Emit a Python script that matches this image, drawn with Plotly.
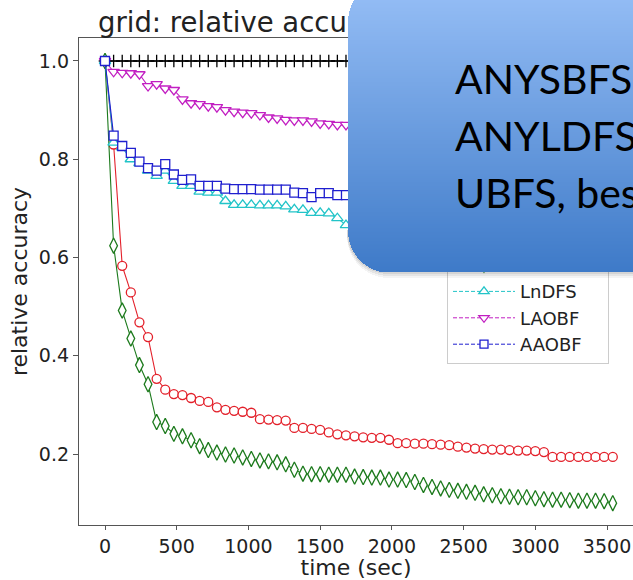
import math
import plotly.graph_objects as go

# ---- data -------------------------------------------------------------
TIME_SEC = [0, 60, 120, 180, 240, 300, 360, 420, 480, 540,
            600, 660, 720, 780, 840, 900, 960, 1020, 1080, 1140,
            1200, 1260, 1320, 1380, 1440, 1500, 1560, 1620, 1680, 1740,
            1800, 1860, 1920, 1980, 2040, 2100, 2160, 2220, 2280, 2340,
            2400, 2460, 2520, 2580, 2640, 2700, 2760, 2820, 2880, 2940,
            3000, 3060, 3120, 3180, 3240, 3300, 3360, 3420, 3480, 3540]

ACC_ANYSBFS = [1.0, 1.0, 1.0, 1.0, 1.0, 1.0, 1.0, 1.0, 1.0, 1.0,
               1.0, 1.0, 1.0, 1.0, 1.0, 1.0, 1.0, 1.0, 1.0, 1.0,
               1.0, 1.0, 1.0, 1.0, 1.0, 1.0, 1.0, 1.0, 1.0, 1.0,
               1.0, 1.0, 1.0, 1.0, 1.0, 1.0, 1.0, 1.0, 1.0, 1.0,
               1.0, 1.0, 1.0, 1.0, 1.0, 1.0, 1.0, 1.0, 1.0, 1.0,
               1.0, 1.0, 1.0, 1.0, 1.0, 1.0, 1.0, 1.0, 1.0, 1.0]

ACC_ANYLDFS = [1.0, 0.83, 0.583, 0.529, 0.468, 0.438, 0.353, 0.331, 0.322, 0.320,
               0.314, 0.308, 0.306, 0.295, 0.290, 0.288, 0.286, 0.284, 0.271, 0.270,
               0.269, 0.268, 0.253, 0.253, 0.251, 0.249, 0.244, 0.240, 0.238, 0.236,
               0.234, 0.233, 0.233, 0.229, 0.222, 0.222, 0.221, 0.221, 0.220, 0.219,
               0.218, 0.215, 0.213, 0.211, 0.210, 0.209, 0.209, 0.208, 0.207, 0.207,
               0.206, 0.204, 0.194, 0.194, 0.194, 0.194, 0.194, 0.194, 0.194, 0.194]

ACC_UBFS = [1.0, 0.624, 0.492, 0.435, 0.381, 0.342, 0.265, 0.257, 0.241, 0.236,
            0.228, 0.216, 0.208, 0.203, 0.199, 0.197, 0.193, 0.190, 0.187, 0.185,
            0.183, 0.179, 0.168, 0.160, 0.159, 0.159, 0.158, 0.158, 0.158, 0.154,
            0.153, 0.152, 0.152, 0.148, 0.148, 0.147, 0.143, 0.137, 0.133, 0.130,
            0.127, 0.125, 0.123, 0.121, 0.118, 0.116, 0.114, 0.113, 0.112, 0.112,
            0.110, 0.108, 0.107, 0.107, 0.106, 0.105, 0.105, 0.105, 0.104, 0.100]

ACC_LNDFS = [1.0, 0.834, 0.824, 0.800, 0.792, 0.777, 0.766, 0.777, 0.756, 0.746,
             0.746, 0.734, 0.732, 0.732, 0.715, 0.707, 0.707, 0.707, 0.706, 0.706,
             0.706, 0.704, 0.698, 0.697, 0.691, 0.691, 0.690, 0.680, 0.666, 0.664,
             0.662, 0.661, 0.659, 0.657, 0.656, 0.654, 0.653, 0.651, 0.650, 0.649,
             0.647, 0.646, 0.645, 0.644, 0.642, 0.641, 0.640, 0.639, 0.638, 0.637,
             0.636, 0.635, 0.634, 0.633, 0.632, 0.631, 0.630, 0.629, 0.628, 0.627]

ACC_LAOBF = [1.0, 0.978, 0.976, 0.975, 0.973, 0.949, 0.953, 0.944, 0.941, 0.922,
             0.914, 0.912, 0.908, 0.906, 0.900, 0.897, 0.895, 0.894, 0.890, 0.885,
             0.883, 0.880, 0.879, 0.879, 0.877, 0.873, 0.872, 0.870, 0.870, 0.868,
             0.866, 0.866, 0.864, 0.862, 0.861, 0.860, 0.858, 0.857, 0.856, 0.855,
             0.853, 0.852, 0.851, 0.850, 0.849, 0.848, 0.847, 0.846, 0.845, 0.845,
             0.844, 0.843, 0.842, 0.842, 0.841, 0.840, 0.840, 0.839, 0.838, 0.838]

ACC_AAOBF = [1.0, 0.848, 0.827, 0.813, 0.795, 0.782, 0.777, 0.790, 0.769, 0.758,
             0.759, 0.746, 0.746, 0.746, 0.740, 0.739, 0.739, 0.739, 0.738, 0.738,
             0.738, 0.738, 0.732, 0.731, 0.723, 0.731, 0.731, 0.727, 0.727, 0.726,
             0.725, 0.725, 0.724, 0.722, 0.722, 0.721, 0.720, 0.719, 0.719, 0.718,
             0.717, 0.716, 0.716, 0.715, 0.714, 0.713, 0.713, 0.712, 0.711, 0.711,
             0.710, 0.709, 0.709, 0.708, 0.707, 0.707, 0.706, 0.705, 0.705, 0.704]

SERIES_NAMES = ["ANYSBFS", "ANYLDFS", "UBFS", "LnDFS", "LAOBF", "AAOBF"]
SERIES_VALUES = [ACC_ANYSBFS, ACC_ANYLDFS, ACC_UBFS, ACC_LNDFS, ACC_LAOBF, ACC_AAOBF]

X_TICKS = [0, 500, 1000, 1500, 2000, 2500, 3000, 3500]
Y_TICKS = [0.2, 0.4, 0.6, 0.8, 1.0]

TITLE_TEXT = "grid: relative accuracy"
X_LABEL = "time (sec)"
Y_LABEL = "relative accuracy"
CALLOUT_LINES = ["ANYSBFS", "ANYLDFS,", "UBFS, best"]

# ---- styles -----------------------------------------------------------
COLORS = ["#000000", "#e3202a", "#1c7a1c", "#22c4c8", "#c21fc2", "#1f1fcf"]
SYMBOLS = ["cross-thin", "circle", "diamond-tall", "triangle-up", "triangle-down", "square"]
SIZES = [9, 9, 11, 10, 10, 9]

W, H = 633, 580
ML, MT, MB = 79, 38, 55
PW, PH = W - ML, H - MT - MB


def px_x(px):
    return (px - ML) / PW


def px_y(py):
    return (H - MB - py) / PH


def marker_style(sym, size, col):
    return dict(symbol=sym, size=size, color="white" if sym != "cross-thin" else col,
                line=dict(color=col, width=1.3))


fig = go.Figure()

for name, vals, col, sym, sz in zip(SERIES_NAMES, SERIES_VALUES, COLORS, SYMBOLS, SIZES):
    fig.add_trace(go.Scatter(
        x=TIME_SEC, y=vals, mode="lines+markers", name=name, showlegend=False,
        line=dict(color=col, width=1.1), marker=marker_style(sym, sz, col)))

# legend entries use a dashed sample line
for name, col, sym, sz in zip(SERIES_NAMES, COLORS, SYMBOLS, SIZES):
    fig.add_trace(go.Scatter(
        x=[None], y=[None], mode="lines+markers", name=name,
        line=dict(color=col, width=1, dash="4px,2px"),
        marker=marker_style(sym, sz - 1, col)))

axis_font = dict(family="DejaVu Sans", size=19, color="#222222")
label_font = dict(family="DejaVu Sans", size=22, color="#222222")

fig.update_xaxes(
    range=[-181.3, 3681], tickvals=X_TICKS, showgrid=False, zeroline=False,
    showline=True, linecolor="#555555", linewidth=1.3, mirror=True,
    ticks="outside", ticklen=4, tickcolor="#555555", tickwidth=1.2,
    tickfont=axis_font, title=dict(text=X_LABEL, font=label_font, standoff=4))
fig.update_yaxes(
    range=[0.0555, 1.0468], tickvals=Y_TICKS, tickformat=".1f", showgrid=False,
    zeroline=False, showline=True, linecolor="#555555", linewidth=1.3,
    ticks="outside", ticklen=5, tickcolor="#555555", tickwidth=1.2,
    tickfont=axis_font, title=dict(text=Y_LABEL, font=label_font, standoff=5))

annotations = [dict(
    text=TITLE_TEXT, xref="paper", yref="paper", x=px_x(96), y=px_y(22),
    xanchor="left", yanchor="middle", showarrow=False,
    font=dict(family="DejaVu Sans", size=27.5, color="#222222"))]

# rounded callout box: vertical gradient built from thin horizontal bands
CALL_L, CALL_T, CALL_B, CALL_R, RAD = 348, -20, 272, 660, 42
TOP_RGB, BOT_RGB = (152, 192, 247), (62, 122, 200)


def left_edge(yc, left, top, bottom):
    off = 0.0
    if yc < top + RAD:
        dy = top + RAD - yc
        off = RAD - math.sqrt(max(0.0, RAD * RAD - dy * dy))
    elif yc > bottom - RAD:
        dy = yc - (bottom - RAD)
        off = RAD - math.sqrt(max(0.0, RAD * RAD - dy * dy))
    return left + off


def band(x0, y0, h, color):
    return dict(text="", xref="paper", yref="paper", x=px_x(x0), y=px_y(y0),
                xanchor="left", yanchor="top", showarrow=False, width=max(1, CALL_R - x0),
                height=h, bgcolor=color, borderpad=0, borderwidth=0)


def band_rows(top, bottom):
    rows, y = [], top
    while y < bottom:
        step = 1 if (y < CALL_T + RAD or y > bottom - RAD - 2) else 2
        rows.append((y, step))
        y += step
    return rows


# soft shadow under the box
for shift, alpha in ((6, 0.05), (4, 0.07), (2, 0.09)):
    for y0, step in band_rows(CALL_B - RAD, CALL_B + shift):
        yc = y0 + step / 2
        x0 = left_edge(yc, CALL_L - 1, CALL_T + shift, CALL_B + shift)
        annotations.append(band(x0, y0, step, "rgba(40,40,40,%.2f)" % alpha))

for y0, step in band_rows(0, CALL_B):
    yc = y0 + step / 2
    t = (yc - CALL_T) / (CALL_B - CALL_T)
    rgb = tuple(round(a + (b - a) * t) for a, b in zip(TOP_RGB, BOT_RGB))
    x0 = left_edge(yc, CALL_L, CALL_T, CALL_B)
    annotations.append(band(x0, y0, min(step + 1, CALL_B - y0), "rgb(%d,%d,%d)" % rgb))

for line, yc in zip(CALLOUT_LINES, (78, 135, 192)):
    annotations.append(dict(
        text=line, xref="paper", yref="paper", x=px_x(454), y=px_y(yc),
        xanchor="left", yanchor="middle", showarrow=False, borderpad=0,
        font=dict(family="Lato", size=41, color="#000000")))

fig.update_layout(
    width=W, height=H, autosize=False,
    margin=dict(l=ML, r=0, t=MT, b=MB),
    paper_bgcolor="white", plot_bgcolor="white",
    showlegend=True,
    legend=dict(x=px_x(447), xanchor="left", y=px_y(364), yanchor="bottom",
                bgcolor="rgba(255,255,255,0.9)", bordercolor="#cccccc", borderwidth=1,
                font=dict(family="DejaVu Sans", size=18, color="#222222"),
                itemwidth=62, tracegroupgap=0),
    annotations=annotations,
)

fig.write_html("out.html")
